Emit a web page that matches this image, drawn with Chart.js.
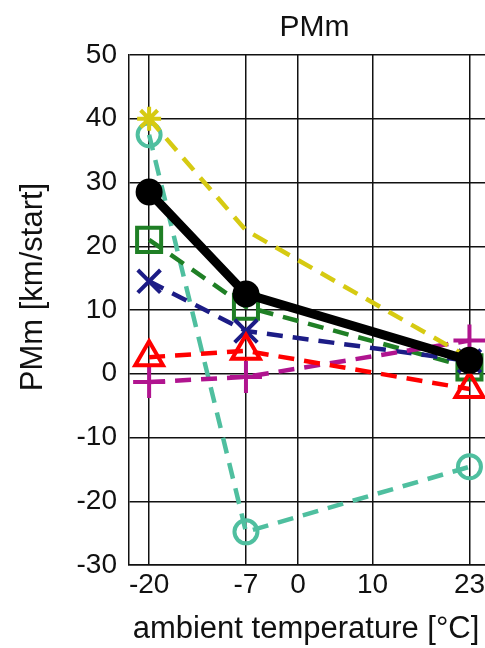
<!DOCTYPE html>
<html>
<head>
<meta charset="utf-8">
<script src="https://cdn.jsdelivr.net/npm/chart.js@4/dist/chart.umd.min.js"></script>
<style>
  html, body { margin: 0; padding: 0; background: #fff; overflow: hidden; }
  #pmChart { display: block; }
</style>
</head>
<body>
<canvas id="pmChart" width="521" height="648"></canvas>
<script>
// temperatures measured
const temps = [-20, -7, 23];
const xTicks = [-20, -7, 0, 10, 23];

// PMm values per series
const blackVals = [28.5, 12.5, 2.1];
const yellowVals = [40, 22.5, 2.5];
const tealVals = [37.5, -24.8, -14.6];
const greenVals = [21, 10.5, 1];
const navyVals = [14.5, 6.7, 2];
const redVals = [2.6, 3.6, -2.4];
const purpleVals = [-1.3, -0.5, 5.2];

const FONT = "'Liberation Sans', Arial, sans-serif";
const pts = vals => temps.map((t, i) => ({ x: t, y: vals[i] }));

// dashed series helper
const dashed = (vals, color, style, radius) => ({
  data: pts(vals),
  borderColor: color,
  borderWidth: 4.5,
  borderDash: [16, 10],
  pointStyle: style,
  pointRadius: radius,
  pointBorderColor: color,
  pointBorderWidth: 4,
  pointBackgroundColor: 'rgba(0,0,0,0)',
  tension: 0
});

// axis titles are drawn by hand, the original ones are not centred on the plot
const axisTitles = {
  id: 'axisTitles',
  afterDraw(chart) {
    const { ctx, chartArea } = chart;
    ctx.save();
    ctx.fillStyle = '#111';
    ctx.font = '31px ' + FONT;
    ctx.textAlign = 'center';
    ctx.textBaseline = 'middle';
    ctx.fillText('ambient temperature [°C]', chartArea.left + 177, chartArea.bottom + 64);
    ctx.translate(33, chartArea.top + 232);
    ctx.rotate(-Math.PI / 2);
    ctx.fillText('PMm [km/start]', 0, 0);
    ctx.restore();
  }
};

new Chart(document.getElementById('pmChart'), {
  type: 'line',
  data: {
    datasets: [
      {
        data: pts(blackVals),
        borderColor: '#000',
        borderWidth: 9,
        pointStyle: 'circle',
        pointRadius: 12,
        pointBorderWidth: 3,
        pointBorderColor: '#000',
        pointBackgroundColor: '#000',
        tension: 0
      },
      dashed(yellowVals, '#d6ca12', 'star', [12, 0, 0]),
      dashed(redVals, '#ff0000', 'triangle', 16),
      dashed(purpleVals, '#b0148f', 'cross', 16),
      dashed(navyVals, '#1c1c86', 'crossRot', 16),
      dashed(greenVals, '#1f7f25', 'rect', 17),
      dashed(tealVals, '#4fbf9f', 'circle', 11.5)
    ]
  },
  plugins: [axisTitles],
  options: {
    responsive: false,
    animation: false,
    layout: { padding: 0 },
    plugins: {
      legend: { display: false },
      tooltip: { enabled: false },
      title: {
        display: true,
        text: 'PMm',
        fullSize: false,
        color: '#111',
        font: { family: FONT, size: 30, weight: 'normal' },
        padding: { top: 10, bottom: 9 }
      }
    },
    scales: {
      x: {
        type: 'linear',
        min: -22.7,
        max: 27.1,
        afterFit: s => { s.height = 83; },
        afterBuildTicks: s => { s.ticks = xTicks.map(v => ({ value: v })); },
        grid: { color: '#111', lineWidth: 1.5, drawTicks: false },
        border: { color: '#111', width: 1.5 },
        ticks: {
          autoSkip: false,
          maxRotation: 0,
          padding: 3,
          color: '#111',
          font: { family: FONT, size: 28 }
        }
      },
      y: {
        min: -30,
        max: 50,
        afterFit: s => { s.width = 129; },
        grid: { color: '#111', lineWidth: 1.5, drawTicks: false },
        border: { color: '#111', width: 1.5 },
        ticks: {
          stepSize: 10,
          padding: 12,
          color: '#111',
          font: { family: FONT, size: 28 }
        }
      }
    }
  }
});
</script>
</body>
</html>
